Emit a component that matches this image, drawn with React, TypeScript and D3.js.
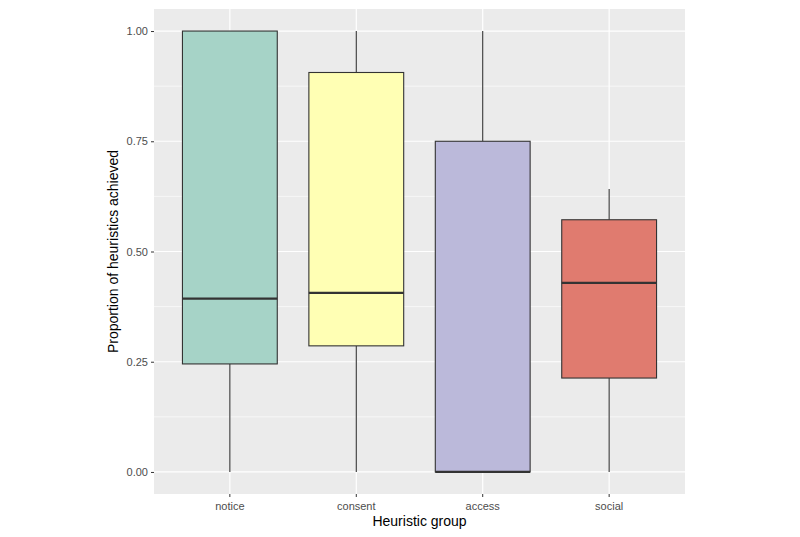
import React, { useRef, useEffect } from 'react'
import * as d3 from 'd3'

const groups = ['notice', 'consent', 'access', 'social']
const whiskerLow = [0, 0, 0, 0]
const q1 = [0.245, 0.286, 0, 0.213]
const median = [0.393, 0.406, 0, 0.429]
const q3 = [1.0, 0.906, 0.75, 0.572]
const whiskerHigh = [1.0, 1.0, 1.0, 0.642]
const fills = ['#a6d3c7', '#ffffb4', '#bbb9da', '#e07b6f']
const yTicks = [0, 0.25, 0.5, 0.75, 1]
const yMinor = [-0.125, 0.125, 0.375, 0.625, 0.875]

const App = () => {
    const ref = useRef<SVGSVGElement>(null)
    useEffect(() => {
        const w = 800
        const h = 537
        const left = 154, right = 685, top = 9, bottom = 494
        const svg = d3.select(ref.current)
            .attr('width', w)
            .attr('height', h)
            .style('background', 'white')
        svg.selectAll('*').remove()

        const x = d3.scaleBand()
            .domain(groups)
            .range([left, right])
            .paddingOuter(0.1)
            .paddingInner(0)
        // ggplot discrete expansion: 0.6 units each side
        const step = (right - left) / (groups.length - 1 + 1.2)
        const cx = (i: number) => left + step * (0.6 + i)
        const y = d3.scaleLinear().domain([-0.05, 1.05]).range([bottom, top])

        svg.append('rect')
            .attr('x', left).attr('y', top)
            .attr('width', right - left).attr('height', bottom - top)
            .attr('fill', '#ebebeb')

        // minor grid
        svg.append('g').selectAll('line').data(yMinor).join('line')
            .attr('x1', left).attr('x2', right)
            .attr('y1', d => y(d)).attr('y2', d => y(d))
            .attr('stroke', 'white').attr('stroke-width', 0.6)
        // major grid
        svg.append('g').selectAll('line').data(yTicks).join('line')
            .attr('x1', left).attr('x2', right)
            .attr('y1', d => y(d)).attr('y2', d => y(d))
            .attr('stroke', 'white').attr('stroke-width', 1.2)
        svg.append('g').selectAll('line').data(groups).join('line')
            .attr('x1', (d, i) => cx(i)).attr('x2', (d, i) => cx(i))
            .attr('y1', top).attr('y2', bottom)
            .attr('stroke', 'white').attr('stroke-width', 1.2)

        const bw = step * 0.75
        const boxes = svg.append('g').selectAll('g').data(groups).join('g')
        boxes.append('line')
            .attr('x1', (d, i) => cx(i)).attr('x2', (d, i) => cx(i))
            .attr('y1', (d, i) => y(q3[i])).attr('y2', (d, i) => y(whiskerHigh[i]))
            .attr('stroke', '#333').attr('stroke-width', 1.1)
        boxes.append('line')
            .attr('x1', (d, i) => cx(i)).attr('x2', (d, i) => cx(i))
            .attr('y1', (d, i) => y(q1[i])).attr('y2', (d, i) => y(whiskerLow[i]))
            .attr('stroke', '#333').attr('stroke-width', 1.1)
        boxes.append('rect')
            .attr('x', (d, i) => cx(i) - bw / 2)
            .attr('width', bw)
            .attr('y', (d, i) => y(q3[i]))
            .attr('height', (d, i) => y(q1[i]) - y(q3[i]))
            .attr('fill', (d, i) => fills[i])
            .attr('stroke', '#333').attr('stroke-width', 1.1)
        boxes.append('line')
            .attr('x1', (d, i) => cx(i) - bw / 2).attr('x2', (d, i) => cx(i) + bw / 2)
            .attr('y1', (d, i) => y(median[i])).attr('y2', (d, i) => y(median[i]))
            .attr('stroke', '#333').attr('stroke-width', 2.2)

        // axes
        const yAxis = d3.axisLeft(y).tickValues(yTicks).tickFormat(d3.format('.2f'))
            .tickSize(3).tickPadding(3)
        const gy = svg.append('g').attr('transform', `translate(${left},0)`).call(yAxis)
        gy.select('.domain').remove()
        gy.selectAll('line').attr('stroke', '#333')
        gy.selectAll('text').style('fill', '#4d4d4d').style('font-size', '11px')
            .style('font-family', 'Liberation Sans, Arial, sans-serif')

        const gx = svg.append('g').attr('transform', `translate(0,${bottom})`)
        gx.selectAll('line').data(groups).join('line')
            .attr('x1', (d, i) => cx(i)).attr('x2', (d, i) => cx(i))
            .attr('y1', 0).attr('y2', 3).attr('stroke', '#333')
        gx.selectAll('text').data(groups).join('text')
            .attr('x', (d, i) => cx(i)).attr('y', 16)
            .attr('text-anchor', 'middle')
            .text(d => d)
            .style('fill', '#4d4d4d').style('font-size', '11px')
            .style('font-family', 'Liberation Sans, Arial, sans-serif')

        svg.append('text')
            .attr('x', (left + right) / 2).attr('y', 526)
            .attr('text-anchor', 'middle')
            .text('Heuristic group')
            .style('font-size', '14px')
            .style('font-family', 'Liberation Sans, Arial, sans-serif')
        svg.append('text')
            .attr('transform', `translate(118,${(top + bottom) / 2}) rotate(-90)`)
            .attr('text-anchor', 'middle')
            .text('Proportion of heuristics achieved')
            .style('font-size', '14px')
            .style('font-family', 'Liberation Sans, Arial, sans-serif')
        void x
    }, [])
    return (
        <div style={{ position: 'absolute', left: 0, top: 0 }}>
            <svg ref={ref}></svg>
        </div>
    )
}

export default App
